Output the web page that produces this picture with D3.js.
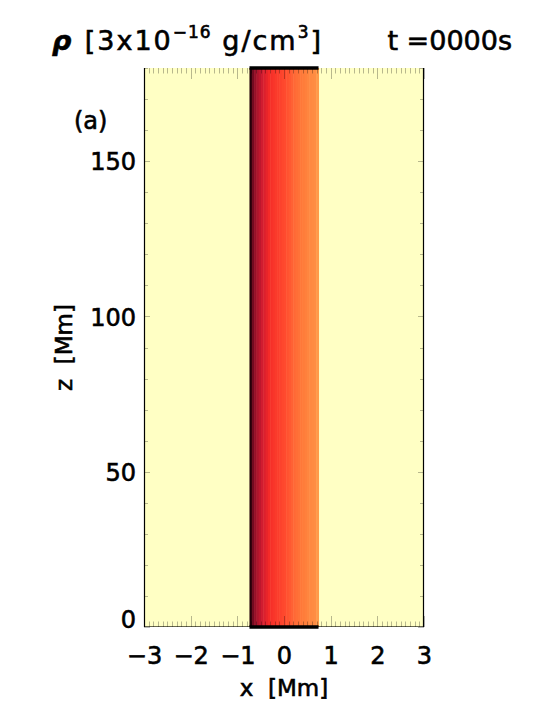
<!DOCTYPE html>
<html>
<head>
<meta charset="utf-8">
<script src="https://d3js.org/d3.v7.min.js"></script>
<style>
  html, body { margin: 0; padding: 0; background: #fff; }
  svg { display: block; }
  text { font-family: "DejaVu Sans", sans-serif; fill: #000; white-space: pre; }
  .thick { stroke: #000; stroke-width: 0.6px; }
</style>
</head>
<body>
<div id="chart"></div>
<script>
// ---- data ----
const xDomain = [-3, 3];
const zDomain = [0, 180];
const xTickValues = [-3, -2, -1, 0, 1, 2, 3];
const zTickValues = [0, 50, 100, 150];
const timeText = "t =0000s";
const panelLabel = "(a)";
// background (outside the tube) density, units of 3e-16 g/cm^3
const backgroundDensity = 0.5;
// tube extent in x [Mm]
const tubeEdges = [-0.74, 0.74];
// density across the tube, left to right (equal-width cells)
const tubeDensity = [10.0, 9.7, 9.5, 9.3, 9.15, 9.0, 8.7, 8.35, 8.0, 7.8,
                     7.65, 7.5, 7.4, 7.25, 7.1, 7.0, 6.75, 6.5, 6.25, 6.0,
                     5.85, 5.75, 5.6, 5.5, 5.4, 5.3, 5.2, 5.15, 5.1, 4.8];
// colour table: density value -> colour
const cmapValues = [0.5, 4.8, 5.5, 6.0, 7.0, 8.0, 9.0, 9.6, 10.0];
const cmapColors = ["#ffffc4", "#ff9a4a", "#ff7c3a", "#ff6836", "#ff4a2e",
                    "#f42a28", "#d01c30", "#8a0e28", "#240008"];

// ---- layout ----
const W = 538, H = 708;
const L = 144, R = 424, T = 68, B = 627;

const svg = d3.select("#chart").append("svg")
  .attr("width", W).attr("height", H);

const x = d3.scaleLinear().domain(xDomain).range([L, R]);
const z = d3.scaleLinear().domain(zDomain).range([B, T]);
const color = d3.scaleLinear().domain(cmapValues).range(cmapColors)
  .interpolate(d3.interpolateRgb).clamp(true);

// background field
svg.append("rect")
  .attr("x", x(xDomain[0])).attr("y", z(zDomain[1]))
  .attr("width", x(xDomain[1]) - x(xDomain[0]))
  .attr("height", z(zDomain[0]) - z(zDomain[1]))
  .attr("fill", color(backgroundDensity));

// tube cells
const n = tubeDensity.length;
const dx = (tubeEdges[1] - tubeEdges[0]) / n;
svg.append("g").selectAll("rect").data(tubeDensity).join("rect")
  .attr("x", (d, i) => x(tubeEdges[0] + i * dx))
  .attr("y", z(zDomain[1]))
  .attr("width", (d, i) => x(tubeEdges[0] + (i + 1) * dx) - x(tubeEdges[0] + i * dx) + 0.5)
  .attr("height", z(zDomain[0]) - z(zDomain[1]))
  .attr("fill", d => color(d));

// dark boundary rows at top and bottom of the tube
[zDomain[0], zDomain[1]].forEach(zz => {
  svg.append("line")
    .attr("x1", x(tubeEdges[0])).attr("x2", x(tubeEdges[1]))
    .attr("y1", z(zz)).attr("y2", z(zz))
    .attr("stroke", "#000").attr("stroke-width", 3.5);
});

// ticks
const tg = svg.append("g").attr("stroke", "#000").attr("stroke-opacity", 0.28).attr("stroke-width", 1);
const xMinor = d3.range(-30, 31).map(v => v / 10);
xMinor.forEach(v => {
  const major = Math.abs(v - Math.round(v)) < 1e-9;
  const len = major ? 11 : 5.5;
  const px = Math.round(x(v)) + 0.5;
  tg.append("line").attr("x1", px).attr("x2", px).attr("y1", B).attr("y2", B - len);
  tg.append("line").attr("x1", px).attr("x2", px).attr("y1", T).attr("y2", T + len);
});
const zMinor = d3.range(0, 181, 10);
zMinor.forEach(v => {
  const major = v % 50 === 0;
  const len = major ? 6 : 4;
  const py = Math.round(z(v)) + 0.5;
  tg.append("line").attr("x1", L).attr("x2", L + len).attr("y1", py).attr("y2", py);
  tg.append("line").attr("x1", R).attr("x2", R - len).attr("y1", py).attr("y2", py);
});

// frame: left/right solid, bottom fainter
svg.append("line").attr("x1", L + 0.5).attr("x2", L + 0.5).attr("y1", T).attr("y2", B)
  .attr("stroke", "#000").attr("stroke-width", 1.2);
svg.append("line").attr("x1", R - 0.5).attr("x2", R - 0.5).attr("y1", T).attr("y2", B)
  .attr("stroke", "#000").attr("stroke-width", 1.2);
svg.append("line").attr("x1", L).attr("x2", R).attr("y1", B - 0.5).attr("y2", B - 0.5)
  .attr("stroke", "#000").attr("stroke-width", 1).attr("stroke-opacity", 0.6);

// tick labels via d3 axes
const fmt = v => (v < 0 ? "\u2212" + Math.abs(v) : String(v));
const xAxis = svg.append("g").attr("transform", `translate(0,${B})`)
  .call(d3.axisBottom(x).tickValues(xTickValues).tickFormat(fmt).tickSize(0).tickPadding(0));
xAxis.select(".domain").remove();
xAxis.selectAll("text").attr("dy", null).attr("y", 37).attr("class", "thick")
  .style("font-size", "24px").style("font-family", "DejaVu Sans, sans-serif").attr("fill", "#000");

const zAxis = svg.append("g").attr("transform", `translate(${L},0)`)
  .call(d3.axisLeft(z).tickValues(zTickValues).tickFormat(fmt).tickSize(0).tickPadding(0));
zAxis.select(".domain").remove();
zAxis.selectAll("text").attr("x", -8).attr("dy", "0.36em").attr("class", "thick")
  .attr("y", d => d === zDomain[0] ? -8 : 0)
  .style("font-size", "24px").style("font-family", "DejaVu Sans, sans-serif").attr("fill", "#000");

// axis titles
svg.append("text").attr("class", "thick").attr("x", (L + R) / 2).attr("y", 696)
  .attr("text-anchor", "middle").style("font-size", "23px").text("x  [Mm]");
svg.append("text").attr("class", "thick")
  .attr("transform", `translate(72,${(T + B) / 2}) rotate(-90)`)
  .attr("text-anchor", "middle").style("font-size", "23px").text("z  [Mm]");

// panel label
svg.append("text").attr("class", "thick").attr("x", 74).attr("y", 129).style("font-size", "24px").text(panelLabel);

// title
const title = svg.append("text").attr("class", "thick").attr("x", 52).attr("y", 50)
  .style("font-size", "27px").style("letter-spacing", "2px");
title.append("tspan").style("font-weight", "bold").style("font-style", "italic").text("\u03c1 ");
title.append("tspan").text("[3x10");
title.append("tspan").attr("dy", -12).style("font-size", "17px").style("letter-spacing", "1px").text("\u221216");
title.append("tspan").attr("dy", 12).text(" g/cm");
title.append("tspan").attr("dy", -12).style("font-size", "17px").text("3");
title.append("tspan").attr("dy", 12).text("]");
svg.append("text").attr("class", "thick").attr("x", 512).attr("y", 50)
  .attr("text-anchor", "end").style("font-size", "27px").text(timeText);
</script>
</body>
</html>
